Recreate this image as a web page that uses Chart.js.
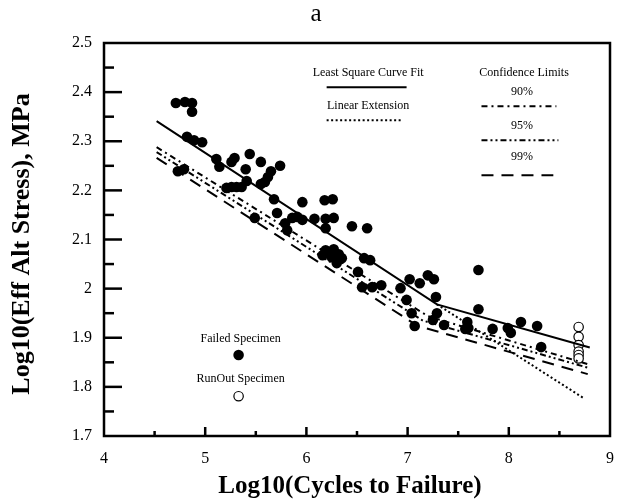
<!DOCTYPE html>
<html>
<head>
<meta charset="utf-8">
<script src="https://cdn.jsdelivr.net/npm/chart.js@4.4.1/dist/chart.umd.min.js"></script>
<style>
  html, body { margin: 0; padding: 0; background: #fff; }
  canvas { display: block; }
</style>
</head>
<body>
<canvas id="myChart" width="627" height="504"></canvas>
<script>
const chartTitle = 'a';
const xTitle = 'Log10(Cycles to Failure)';
const yTitle = 'Log10(Eff Alt Stress), MPa';

// failed specimens
const failedX = [4.71, 4.80, 4.87, 4.87, 4.82, 4.89, 4.97, 4.73, 4.79, 5.11,
  5.14, 5.26, 5.29, 5.44, 5.55, 5.40, 5.74, 5.65, 5.62, 5.59,
  5.55, 5.41, 5.21, 5.26, 5.31, 5.36, 5.68, 5.71, 5.96, 6.18,
  6.26, 5.49, 5.79, 5.86, 5.91, 5.96, 6.08, 6.19, 6.27, 5.81,
  6.19, 6.45, 6.60, 6.19, 6.27, 6.32, 6.35, 6.30, 6.25, 6.16,
  6.51, 6.57, 6.63, 6.55, 6.65, 6.74, 6.93, 6.99, 7.02, 7.12,
  7.20, 7.26, 7.28, 7.70, 7.70, 7.04, 7.29, 7.07, 7.25, 7.36,
  7.59, 7.60, 7.57, 7.84, 7.99, 8.02, 8.12, 8.28, 8.32];
const failedY = [2.378, 2.380, 2.378, 2.360, 2.309, 2.302, 2.298, 2.239, 2.243, 2.264,
  2.248, 2.258, 2.266, 2.274, 2.258, 2.243, 2.250, 2.239, 2.227, 2.217,
  2.213, 2.219, 2.205, 2.207, 2.207, 2.207, 2.182, 2.154, 2.176, 2.180,
  2.182, 2.144, 2.133, 2.144, 2.146, 2.140, 2.142, 2.142, 2.144, 2.119,
  2.123, 2.127, 2.123, 2.078, 2.080, 2.070, 2.062, 2.052, 2.064, 2.068,
  2.034, 2.062, 2.058, 2.003, 2.003, 2.007, 2.001, 1.977, 2.019, 2.011,
  2.027, 2.019, 1.983, 2.038, 1.958, 1.950, 1.950, 1.924, 1.936, 1.926,
  1.932, 1.920, 1.918, 1.918, 1.920, 1.910, 1.932, 1.924, 1.881];

// run-out specimens
const runOutX = [8.69, 8.69, 8.69, 8.69, 8.69, 8.69];
const runOutY = [1.922, 1.902, 1.885, 1.872, 1.865, 1.858];

// fitted curves
const fitX = [4.52, 7.29, 8.80];
const fitY = [2.341, 1.968, 1.880];
const extX = [7.29, 8.74];
const extY = [1.968, 1.777];
const cl90X = [4.52, 7.20, 8.80];
const cl90Y = [2.288, 1.944, 1.845];
const cl95X = [4.52, 7.15, 8.80];
const cl95Y = [2.278, 1.935, 1.838];
const cl99X = [4.52, 7.10, 8.78];
const cl99Y = [2.266, 1.924, 1.826];

const xTicks = [4, 5, 6, 7, 8, 9];
const yTicks = [1.7, 1.8, 1.9, 2, 2.1, 2.2, 2.3, 2.4, 2.5];

// where the in-plot legend sits, in data units
const legendPos = {
  fitLine: [6.20, 6.99, 2.410],
  extLine: [6.20, 6.94, 2.343],
  cl90Line: [7.73, 8.47, 2.371],
  cl95Line: [7.73, 8.49, 2.302],
  cl99Line: [7.73, 8.44, 2.231],
  failedMark: [5.33, 1.865],
  runOutMark: [5.33, 1.781],
  texts: [
    ['Least Square Curve Fit', 6.61, 2.440],
    ['Linear Extension', 6.61, 2.372],
    ['Confidence Limits', 8.15, 2.440],
    ['90%', 8.13, 2.400],
    ['95%', 8.13, 2.331],
    ['99%', 8.13, 2.268],
    ['Failed Specimen', 5.35, 1.897],
    ['RunOut Specimen', 5.35, 1.816],
  ],
};

const zip = (xs, ys) => xs.map((x, i) => ({ x: x, y: ys[i] }));
const seg = (p) => [{ x: p[0], y: p[2] }, { x: p[1], y: p[2] }];

const dash90 = [6, 4, 2, 4];
const dash95 = [6, 3, 2, 3, 2, 3];
const dash99 = [12, 8];
const dotted = [2, 2.5];

function lineSet(data, dash) {
  return {
    data: data,
    showLine: true,
    borderColor: '#000',
    borderWidth: 2,
    borderDash: dash,
    pointRadius: 0,
    fill: false,
  };
}

const serif = "'Liberation Serif', 'Times New Roman', serif";

const decorations = {
  id: 'decorations',
  afterDraw(chart) {
    const { ctx, chartArea: a, scales: { x, y } } = chart;
    ctx.save();
    ctx.strokeStyle = '#000';
    ctx.fillStyle = '#000';
    ctx.lineWidth = 2.5;
    // inward tick marks
    x.ticks.forEach(t => {
      const v = t.value;
      if (v <= x.min + 1e-6 || v >= x.max - 1e-6) return;
      const major = Math.abs(v - Math.round(v)) < 1e-6;
      const px = x.getPixelForValue(v);
      ctx.beginPath();
      ctx.moveTo(px, a.bottom);
      ctx.lineTo(px, a.bottom - (major ? 9 : 5));
      ctx.stroke();
    });
    y.ticks.forEach(t => {
      const v = t.value;
      if (v <= y.min + 1e-6 || v >= y.max - 1e-6) return;
      const major = Math.abs(v * 10 - Math.round(v * 10)) < 1e-6;
      const py = y.getPixelForValue(v);
      ctx.beginPath();
      ctx.moveTo(a.left, py);
      ctx.lineTo(a.left + (major ? 18 : 10), py);
      ctx.stroke();
    });
    // frame
    ctx.strokeRect(a.left, a.top, a.right - a.left, a.bottom - a.top);

    // legend texts
    ctx.font = '12px ' + serif;
    ctx.textAlign = 'center';
    ctx.textBaseline = 'middle';
    legendPos.texts.forEach(([s, vx, vy]) => {
      ctx.fillText(s, x.getPixelForValue(vx), y.getPixelForValue(vy));
    });

    // titles
    ctx.font = '25px ' + serif;
    ctx.fillText(chartTitle, 316, 14);
    ctx.font = 'bold 25px ' + serif;
    ctx.fillText(xTitle, 350, 487);
    ctx.translate(22, 244);
    ctx.rotate(-Math.PI / 2);
    ctx.font = 'bold 26px ' + serif;
    ctx.fillText(yTitle, 0, 0);
    ctx.restore();
  }
};

const ctx = document.getElementById('myChart');

new Chart(ctx, {
  type: 'scatter',
  data: {
    datasets: [
      lineSet(zip(fitX, fitY), []),
      lineSet(zip(extX, extY), dotted),
      lineSet(zip(cl90X, cl90Y), dash90),
      lineSet(zip(cl95X, cl95Y), dash95),
      lineSet(zip(cl99X, cl99Y), dash99),
      lineSet(seg(legendPos.fitLine), []),
      lineSet(seg(legendPos.extLine), dotted),
      lineSet(seg(legendPos.cl90Line), dash90),
      lineSet(seg(legendPos.cl95Line), dash95),
      lineSet(seg(legendPos.cl99Line), dash99),
      {
        label: 'Failed Specimen',
        data: zip(failedX, failedY).concat([{ x: legendPos.failedMark[0], y: legendPos.failedMark[1] }]),
        pointRadius: 5.3,
        backgroundColor: '#000',
        borderColor: '#000',
        borderWidth: 0,
      },
      {
        label: 'RunOut Specimen',
        data: zip(runOutX, runOutY).concat([{ x: legendPos.runOutMark[0], y: legendPos.runOutMark[1] }]),
        pointRadius: 4.7,
        backgroundColor: '#fff',
        borderColor: '#000',
        borderWidth: 1.2,
      },
    ],
  },
  options: {
    responsive: false,
    animation: false,
    layout: { padding: { top: 43, right: 11, left: 0, bottom: 0 } },
    plugins: {
      legend: { display: false },
      title: { display: false },
      tooltip: { enabled: false },
    },
    scales: {
      x: {
        type: 'linear',
        min: 4,
        max: 9,
        grid: { display: false, drawTicks: false },
        border: { display: false },
        afterFit: (s) => { s.height = 68; },
        ticks: {
          stepSize: 0.5,
          autoSkip: false,
          maxRotation: 0,
          padding: 13,
          color: '#000',
          font: { size: 16, family: serif },
          callback: (v) => xTicks.includes(v) ? String(v) : '',
        },
      },
      y: {
        type: 'linear',
        min: 1.7,
        max: 2.5,
        grid: { display: false, drawTicks: false },
        border: { display: false },
        afterFit: (s) => { s.width = 104; },
        ticks: {
          stepSize: 0.05,
          autoSkip: false,
          padding: 12,
          color: '#000',
          font: { size: 16, family: serif },
          callback: (v) => {
            const r = Math.round(v * 10) / 10;
            return (Math.abs(v - r) < 1e-6 && yTicks.includes(r)) ? String(r) : '';
          },
        },
      },
    },
  },
  plugins: [decorations],
});
</script>
</body>
</html>
